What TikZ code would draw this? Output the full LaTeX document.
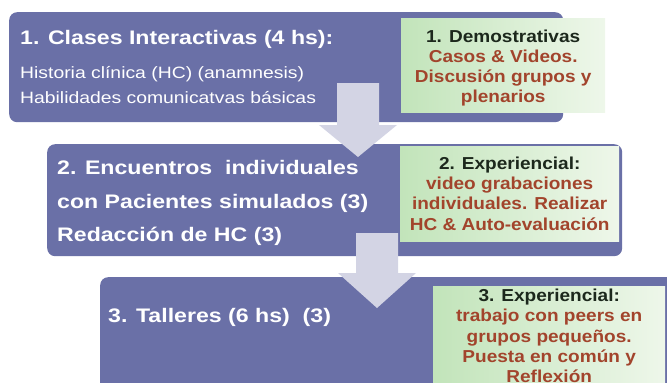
\documentclass[tikz,border=0pt]{standalone}
\usepackage{fontspec}
\setmainfont{Liberation Sans}[FakeStretch=1.18]
\newfontfamily\panelfont{Liberation Sans}[FakeStretch=1.10]
\usepackage{xcolor}
\usepackage{tikz}

\definecolor{slate}{RGB}{106,112,167}
\definecolor{arrowgrey}{RGB}{211,212,228}
\definecolor{leafgreen}{RGB}{194,228,186}
\definecolor{palegreen}{RGB}{238,247,234}
\definecolor{darkink}{RGB}{28,40,28}
\definecolor{brick}{RGB}{162,68,44}

\begin{document}
\begin{tikzpicture}[x=1pt, y=-1pt,
    bluebox/.style={fill=slate, rounded corners=8pt, anchor=north west,
                    inner sep=0pt},
    greenbox/.style={left color=leafgreen, right color=palegreen,
                     anchor=north west, inner sep=0pt},
    greentext/.style={align=center, inner sep=0pt, text=brick,
                      font=\panelfont\fontsize{17.3}{20.2}\selectfont\bfseries},
    headtext/.style={anchor=west, inner sep=0pt, text=white,
                     font=\fontsize{19.6}{33.5}\selectfont\bfseries, align=left}]
  \useasboundingbox (0,0) rectangle (667,383);
  \clip (0,0) rectangle (667,383);

  % the three blue blocks
  \node[bluebox, minimum width=554pt, minimum height=110pt] (b1) at (9,12) {};
  \node[bluebox, minimum width=575pt, minimum height=112pt] (b2) at (47,144) {};
  \node[bluebox, minimum width=620pt, minimum height=160pt] (b3) at (100,277) {};

  % green side panels
  \node[greenbox, minimum width=204pt, minimum height=94pt] (g1) at (401,18) {};
  \node[greenbox, minimum width=219pt, minimum height=95pt] (g2) at (400,146) {};
  \node[greenbox, minimum width=232pt, minimum height=120pt] (g3) at (433,286) {};

  % block arrows
  \foreach \cx/\ya/\yb/\yc in {358/83/125/157, 377/233/273/308}
    \fill[arrowgrey] (\cx-21,\ya) -- (\cx+21,\ya) -- (\cx+21,\yb)
      -- (\cx+39,\yb) -- (\cx,\yc) -- (\cx-39,\yb) -- (\cx-21,\yb) -- cycle;

  % texts
  \node[headtext] (t1) at (20,39) {1. Clases Interactivas (4 hs):};
  \node[anchor=west, inner sep=0pt, text=white, align=left,
        font=\fontsize{16.4}{25}\selectfont] (t1b) at (20,85)
        {Historia clínica (HC) (anamnesis)\\Habilidades comunicatvas básicas};
  \node[headtext] (t2) at (57,203)
        {2. Encuentros\ \ individuales\\con Pacientes simulados (3)\\Redacción de HC (3)};
  \node[headtext] (t3) at (108,317) {3. Talleres (6 hs)\ \ (3)};

  \node[greentext] (d1) at ([yshift=-3pt]g1.center)
        {{\color{darkink}1. Demostrativas}\\Casos \& Videos.\\Discusión grupos y\\plenarios};
  \node[greentext] (d2) at (g2.center)
        {{\color{darkink}2. Experiencial:}\\video grabaciones\\individuales. Realizar\\HC \& Auto-evaluación};
  \node[greentext, anchor=north] (d3) at ([yshift=-3pt]g3.north)
        {{\color{darkink}3. Experiencial:}\\trabajo con peers en\\grupos pequeños.\\Puesta en común y\\Reflexión};
\end{tikzpicture}
\end{document}
